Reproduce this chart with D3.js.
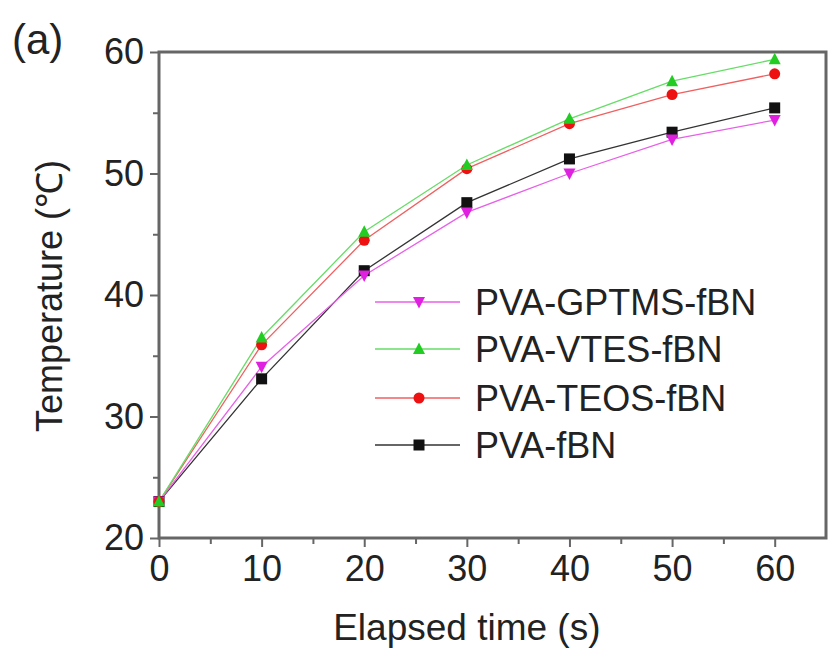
<!DOCTYPE html>
<html><head><meta charset="utf-8">
<script src="https://cdn.jsdelivr.net/npm/d3@7"></script>
<style>body{margin:0;background:#fff}svg{display:block;font-family:"Liberation Sans",Arial,sans-serif}</style>
</head><body>
<svg id="c" width="829" height="653"></svg>
<script>
const times = [0, 10, 20, 30, 40, 50, 60];
const seriesNames = ["PVA-GPTMS-fBN", "PVA-VTES-fBN", "PVA-TEOS-fBN", "PVA-fBN"];
const gptms = [23.0, 34.1, 41.6, 46.8, 50.0, 52.8, 54.4];
const vtes  = [23.0, 36.5, 45.2, 50.7, 54.5, 57.6, 59.4];
const teos  = [23.0, 35.9, 44.5, 50.4, 54.1, 56.5, 58.2];
const pvafbn= [23.0, 33.1, 42.0, 47.6, 51.2, 53.4, 55.4];
const xTicks = [0, 10, 20, 30, 40, 50, 60];
const yTicks = [20, 30, 40, 50, 60];

const seriesVals = [gptms, vtes, teos, pvafbn];
const colors = ["#e020e0", "#22cc22", "#ee1111", "#111111"];
const lineColors = ["#e860e8", "#66dd66", "#f06060", "#333333"];
const shapes = ["tri-down", "tri-up", "circle", "square"];

const svg = d3.select("#c");
const L = 159, R = 826, T = 52, B = 538;
const x = d3.scaleLinear().domain([0, 65]).range([L, R]);
const y = d3.scaleLinear().domain([20, 60]).range([B, T]);
const axisColor = "#666";

// frame
svg.append("rect").attr("x", L).attr("y", T).attr("width", R - L).attr("height", B - T)
  .attr("fill", "none").attr("stroke", axisColor).attr("stroke-width", 3);

// x axis
const gx = svg.append("g").attr("transform", `translate(0,${B})`)
  .call(d3.axisBottom(x).tickValues(xTicks).tickSize(9).tickPadding(8).tickFormat(d3.format("d")));
gx.select(".domain").remove();
gx.selectAll("line").attr("stroke", axisColor).attr("stroke-width", 2);
gx.selectAll("text").attr("font-size", 36).attr("fill", "#222").attr("font-family", "Liberation Sans, Arial, sans-serif");
const gxm = svg.append("g").attr("transform", `translate(0,${B})`)
  .call(d3.axisBottom(x).tickValues([5,15,25,35,45,55]).tickSize(6).tickFormat(""));
gxm.select(".domain").remove();
gxm.selectAll("line").attr("stroke", axisColor).attr("stroke-width", 2);

// y axis
const gy = svg.append("g").attr("transform", `translate(${L},0)`)
  .call(d3.axisLeft(y).tickValues(yTicks).tickSize(9).tickPadding(6).tickFormat(d3.format("d")));
gy.select(".domain").remove();
gy.selectAll("line").attr("stroke", axisColor).attr("stroke-width", 2);
gy.selectAll("text").attr("font-size", 36).attr("fill", "#222").attr("font-family", "Liberation Sans, Arial, sans-serif");
const gym = svg.append("g").attr("transform", `translate(${L},0)`)
  .call(d3.axisLeft(y).tickValues([25,35,45,55]).tickSize(6).tickFormat(""));
gym.select(".domain").remove();
gym.selectAll("line").attr("stroke", axisColor).attr("stroke-width", 2);

// titles
svg.append("text").attr("x", (x(0) + x(60)) / 2 + 0).attr("y", 640).attr("text-anchor", "middle")
  .attr("font-size", 37).attr("fill", "#222").text("Elapsed time (s)");
svg.append("text").attr("transform", `translate(62,296) rotate(-90)`).attr("text-anchor", "middle")
  .attr("font-size", 36).attr("fill", "#222").text("Temperature (\u2103)");
svg.append("text").attr("x", 12).attr("y", 54).attr("font-size", 42).attr("fill", "#222").text("(a)");

function marker(g, shape, cx, cy, color) {
  const s = 5.5;
  if (shape === "square") g.append("rect").attr("x", cx - s).attr("y", cy - s).attr("width", 2*s).attr("height", 2*s).attr("fill", color);
  else if (shape === "circle") g.append("circle").attr("cx", cx).attr("cy", cy).attr("r", s).attr("fill", color);
  else if (shape === "tri-up") g.append("path").attr("d", `M${cx},${cy-s-1}L${cx+s+0.5},${cy+s-0.5}L${cx-s-0.5},${cy+s-0.5}Z`).attr("fill", color);
  else g.append("path").attr("d", `M${cx},${cy+s+1}L${cx+s+0.5},${cy-s+0.5}L${cx-s-0.5},${cy-s+0.5}Z`).attr("fill", color);
}

const line = d3.line().x((d, i) => x(times[i])).y(d => y(d));
// draw in order: black first, then gptms, teos, vtes
const order = [3, 0, 2, 1];
order.forEach(k => {
  svg.append("path").datum(seriesVals[k]).attr("d", line).attr("fill", "none")
    .attr("stroke", lineColors[k]).attr("stroke-width", 1.3);
});
order.forEach(k => {
  const g = svg.append("g");
  seriesVals[k].forEach((v, i) => marker(g, shapes[k], x(times[i]), y(v), colors[k]));
});

// legend
const legY = [302, 349, 398, 445];
seriesNames.forEach((name, k) => {
  const g = svg.append("g");
  g.append("line").attr("x1", 375).attr("x2", 460).attr("y1", legY[k]).attr("y2", legY[k])
    .attr("stroke", lineColors[k]).attr("stroke-width", 1.3);
  marker(g, shapes[k], 419, legY[k], colors[k]);
  g.append("text").attr("x", 475).attr("y", legY[k] + 13).attr("font-size", 36).attr("fill", "#222").text(name);
});
</script>
</body></html>
